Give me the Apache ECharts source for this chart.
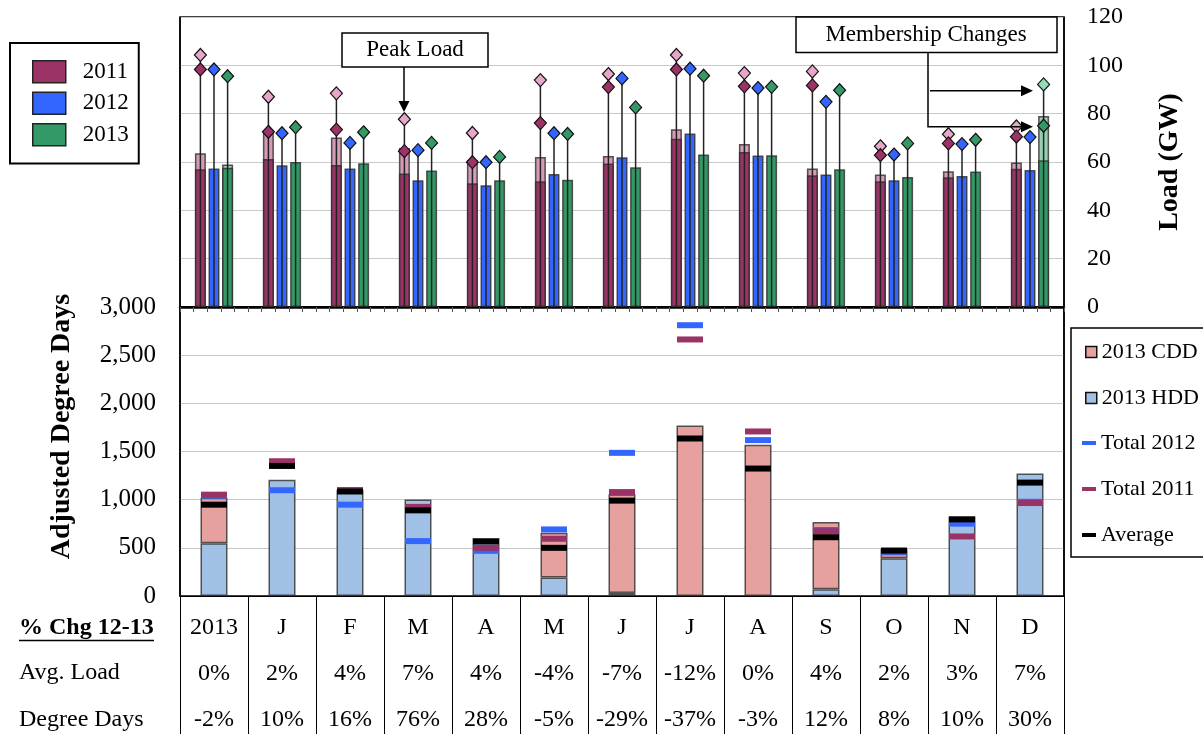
<!DOCTYPE html>
<html><head><meta charset="utf-8">
<script src="https://cdn.jsdelivr.net/npm/echarts@6/dist/echarts.min.js"></script>
<style>html,body{margin:0;padding:0;background:#fff}#c{width:1203px;height:734px}</style>
</head><body><div id="c"></div>
<script>
// ---- data ----
const columns = ['2013','J','F','M','A','M','J','J','A','S','O','N','D'];
const avgLoadChg = ['0%','2%','4%','7%','4%','-4%','-7%','-12%','0%','4%','2%','3%','7%'];
const degreeDayChg = ['-2%','10%','16%','76%','28%','-5%','-29%','-37%','-3%','12%','8%','10%','30%'];

// Load (GW) - top panel
const load2011    = [57.0, 61.2, 58.8, 55.2, 51.2, 52.0, 59.4, 69.6, 64.1, 54.5, 52.0, 53.7, 57.2];
const load2011Adj = [63.6, 72.9, 70.1, 65.8, 60.7, 62.1, 62.5, 73.6, 67.5, 57.3, 54.8, 56.2, 59.8];
const load2012    = [57.3, 58.7, 57.3, 52.5, 50.4, 55.0, 62.0, 71.8, 62.7, 54.8, 52.5, 54.2, 56.7];
const load2013    = [57.6, 60.0, 59.5, 56.5, 52.5, 52.7, 57.8, 63.1, 62.8, 57.0, 53.8, 56.1, 60.7];
const load2013Adj = [59.0, null, null, null, null, null, null, null, null, null, null, null, 79.0];
const peak2011    = [98.3, 72.5, 73.4, 64.5, 59.9, 76.1, 91.0, 98.3, 91.3, 91.7, 62.8, 67.7, 70.5];
const peak2011Adj = [104.3, 87.0, 88.4, 77.7, 72.0, 93.9, 96.4, 104.3, 96.8, 97.5, 66.5, 71.5, 74.7];
const peak2012    = [98.3, 71.9, 67.9, 64.9, 59.9, 71.9, 94.6, 98.6, 90.6, 84.9, 63.1, 67.4, 70.3];
const peak2013    = [95.5, 74.4, 72.3, 67.9, 62.1, 71.6, 82.6, 95.7, 91.1, 89.7, 67.7, 69.2, 75.0];
const peak2013Adj = [null, null, null, null, null, null, null, null, null, null, null, null, 92.1];

// Adjusted degree days - bottom panel
const hdd2013   = [548, 1208, 1100, 1003, 600, 191, 31, null, null, 69, 392, 826, 1271];
const cdd2013   = [473, null, null, null, null, 465, 1024, 1771, 1569, 698, 98, null, null];
const total2012 = [1042, 1098, 948, 570, 469, 691, 1486, 2811, 1618, 685, 454, 751, 978];
const total2011 = [1052, 1399, 1100, 925, 500, 594, 1079, 2663, 1708, 673, 465, 618, 965];
const average   = [948, 1350, 1085, 889, 566, 500, 990, 1635, 1323, 610, 472, 795, 1177];

// ---- helpers ----
const SLOTS = 5;
const slotCats = Array.from({length: columns.length * SLOTS}, (_, i) => String(i));
function toSlots(arr, off) {
  const out = [];
  arr.forEach((v, i) => { if (v != null) out.push([i * SLOTS + off, v]); });
  return out;
}
function maxOf(a, b) { return a.map((v, i) => Math.max(v == null ? -Infinity : v, b[i] == null ? -Infinity : b[i])); }

const FONT = "'Liberation Serif','Times New Roman',serif";
const C11 = '#9B3366', C11L = '#D49AB6', C12 = '#3366FF', C13 = '#339966', C13L = '#9BCDB2';
const barBorder = {borderColor: 'rgba(45,45,45,0.8)', borderWidth: 1.5};

function topBar(name, arr, off, color, z) {
  return {name, type: 'bar', xAxisIndex: 0, yAxisIndex: 0, data: toSlots(arr, off),
    barWidth: 11, barGap: '-100%', z, itemStyle: Object.assign({color}, barBorder)};
}
function diamond(name, arr, off, color) {
  return {name, type: 'scatter', xAxisIndex: 0, yAxisIndex: 0, data: toSlots(arr, off),
    symbol: 'diamond', symbolSize: [12, 13], z: 5,
    itemStyle: {color, borderColor: '#111', borderWidth: 1.2, opacity: 1}};
}
const whiskers = [].concat(
  toSlots(maxOf(peak2011, peak2011Adj), 1),
  toSlots(peak2012, 2),
  toSlots(maxOf(peak2013, peak2013Adj), 3)
);

function marker(name, arr, color) {
  return {name, type: 'scatter', xAxisIndex: 1, yAxisIndex: 1, data: arr,
    symbol: 'rect', symbolSize: [26, 6], z: 5, itemStyle: {color, opacity: 1}};
}

const chart = echarts.init(document.getElementById('c'), null, {renderer: 'canvas'});
chart.setOption({
  animation: false,
  backgroundColor: '#fff',
  textStyle: {fontFamily: FONT},
  grid: [
    {left: 180, right: 139, top: 17, height: 290, show: true, borderColor: '#000', borderWidth: 1.5},
    {left: 180, right: 139, top: 307, height: 289, show: true, borderColor: '#000', borderWidth: 1.5}
  ],
  xAxis: [
    {type: 'category', gridIndex: 0, data: slotCats, boundaryGap: true,
      axisLine: {lineStyle: {color: '#000', width: 2.5}},
      axisTick: {show: true, interval: 0, length: 5, lineStyle: {color: '#555', width: 1}},
      axisLabel: {show: false},
      splitLine: {show: true, interval: (i) => i === SLOTS, lineStyle: {color: '#000', width: 1.5}}},
    {type: 'category', gridIndex: 1, data: columns, boundaryGap: true,
      axisLine: {lineStyle: {color: '#000', width: 1}},
      axisTick: {show: true, interval: 0, length: 138, lineStyle: {color: '#000', width: 1}},
      axisLabel: {interval: 0, margin: 9,
        formatter: (v, i) => `{m|${columns[i]}}\n{v|${avgLoadChg[i]}}\n{v|${degreeDayChg[i]}}`,
        rich: {
          m: {fontFamily: FONT, fontSize: 24, lineHeight: 46, color: '#000'},
          v: {fontFamily: FONT, fontSize: 24, lineHeight: 46, color: '#000'}
        }},
      splitLine: {show: true, interval: (i) => i === 1, lineStyle: {color: '#000', width: 1.5}}}
  ],
  yAxis: [
    {type: 'value', gridIndex: 0, position: 'right', min: 0, max: 120, interval: 20,
      axisLine: {show: false}, axisTick: {show: false},
      axisLabel: {fontFamily: FONT, fontSize: 24, color: '#000', align: 'left', margin: 23},
      splitLine: {lineStyle: {color: '#c8c8c8', width: 1}},
      name: 'Load (GW)', nameLocation: 'middle', nameRotate: 90, nameGap: 92,
      nameTextStyle: {fontFamily: FONT, fontSize: 28, fontWeight: 'bold', color: '#000'}},
    {type: 'value', gridIndex: 1, position: 'left', min: 0, max: 3000, interval: 500,
      axisLine: {show: false}, axisTick: {show: false},
      axisLabel: {fontFamily: FONT, fontSize: 25, color: '#000', margin: 24,
        formatter: (v) => v.toLocaleString('en-US')},
      splitLine: {lineStyle: {color: '#c8c8c8', width: 1}},
      name: 'Adjusted Degree Days', nameLocation: 'middle', nameRotate: 90, nameGap: 104,
      nameTextStyle: {fontFamily: FONT, fontSize: 28, fontWeight: 'bold', color: '#000', padding: [0, 0, 0, 50]}}
  ],
  legend: [
    {data: ['2011', '2012', '2013'], orient: 'vertical', left: 10, top: 43,
      padding: [17, 10, 17, 22], itemWidth: 33, itemHeight: 22, itemGap: 8, icon: 'rect',
      borderColor: '#000', borderWidth: 2, selectedMode: false,
      itemStyle: {borderColor: '#222', borderWidth: 1.5},
      textStyle: {fontFamily: FONT, fontSize: 23, color: '#000', padding: [0, 0, 0, 12]}},
    {data: ['2013 CDD', '2013 HDD'], orient: 'vertical', left: 1085, top: 341,
      padding: 0, itemWidth: 11, itemHeight: 11, itemGap: 24, icon: 'rect', selectedMode: false,
      itemStyle: {borderColor: '#111', borderWidth: 1.5},
      textStyle: {fontFamily: FONT, fontSize: 22, lineHeight: 22, color: '#000'}},
    {data: ['Total 2012', 'Total 2011', 'Average'], orient: 'vertical', left: 1082, top: 432,
      padding: 0, itemWidth: 14, itemHeight: 4, itemGap: 24, icon: 'rect', selectedMode: false,
      itemStyle: {borderWidth: 0, opacity: 1},
      textStyle: {fontFamily: FONT, fontSize: 22, lineHeight: 22, color: '#000'}}
  ],
  series: [
    topBar('2011 adj', load2011Adj, 1, C11L, 2),
    topBar('2011', load2011, 1, C11, 3),
    topBar('2012', load2012, 2, C12, 3),
    topBar('2013 adj', load2013Adj, 3, C13L, 2),
    topBar('2013', load2013, 3, C13, 3),
    {name: 'peak line', type: 'custom', xAxisIndex: 0, yAxisIndex: 0, data: whiskers, z: 4,
      encode: {x: 0, y: 1},
      renderItem: (params, api) => {
        const p0 = api.coord([api.value(0), 0]);
        const p1 = api.coord([api.value(0), api.value(1)]);
        return {type: 'line', shape: {x1: p0[0], y1: p0[1], x2: p1[0], y2: p1[1]},
          style: {stroke: '#222', lineWidth: 1.5}};
      }},
    diamond('2011 peak adj', peak2011Adj, 1, '#E8A6C8'),
    diamond('2011 peak', peak2011, 1, C11),
    diamond('2012 peak', peak2012, 2, C12),
    diamond('2013 peak adj', peak2013Adj, 3, '#92DDB5'),
    diamond('2013 peak', peak2013, 3, C13),

    {name: '2013 HDD', type: 'bar', xAxisIndex: 1, yAxisIndex: 1, stack: 'dd', data: hdd2013,
      barWidth: 27, z: 2, itemStyle: Object.assign({color: '#A0C0E6'}, barBorder)},
    {name: '2013 CDD', type: 'bar', xAxisIndex: 1, yAxisIndex: 1, stack: 'dd', data: cdd2013,
      barWidth: 27, z: 2, itemStyle: Object.assign({color: '#E6A19E'}, barBorder)},
    marker('Total 2012', total2012, '#3366FF'),
    marker('Total 2011', total2011, '#993366'),
    marker('Average', average, '#000000')
  ],
  graphic: [
    // right legend frame
    {type: 'rect', shape: {x: 1071, y: 328, width: 140, height: 229},
      style: {fill: 'none', stroke: '#000', lineWidth: 1.5}, z: 10},
    // Peak Load annotation
    {type: 'rect', shape: {x: 342, y: 33, width: 146, height: 34},
      style: {fill: '#fff', stroke: '#000', lineWidth: 1.5}, z: 10},
    {type: 'text', x: 415, y: 50, style: {text: 'Peak Load', font: `23px ${FONT}`, fill: '#000',
      align: 'center', verticalAlign: 'middle'}, z: 11},
    {type: 'line', shape: {x1: 404, y1: 67, x2: 404, y2: 102}, style: {stroke: '#000', lineWidth: 1.5}, z: 10},
    {type: 'polygon', shape: {points: [[398.5, 101], [409.5, 101], [404, 112]]}, style: {fill: '#000'}, z: 10},
    // Membership Changes annotation
    {type: 'rect', shape: {x: 796, y: 17, width: 261, height: 35.5},
      style: {fill: '#fff', stroke: '#000', lineWidth: 1.5}, z: 10},
    {type: 'text', x: 926, y: 35, style: {text: 'Membership Changes', font: `23px ${FONT}`, fill: '#000',
      align: 'center', verticalAlign: 'middle'}, z: 11},
    {type: 'polyline', shape: {points: [[928, 52.5], [928, 126.7], [1022, 126.7]]},
      style: {stroke: '#000', lineWidth: 1.5, fill: 'none'}, z: 10},
    {type: 'polygon', shape: {points: [[1021, 121.2], [1021, 132.2], [1033, 126.7]]}, style: {fill: '#000'}, z: 10},
    {type: 'line', shape: {x1: 930, y1: 90.7, x2: 1022, y2: 90.7}, style: {stroke: '#000', lineWidth: 1.5}, z: 10},
    {type: 'polygon', shape: {points: [[1021, 85.2], [1021, 96.2], [1033, 90.7]]}, style: {fill: '#000'}, z: 10},
    // table row labels
    {type: 'text', x: 19, y: 628, style: {text: '% Chg 12-13', font: `bold 24px ${FONT}`, fill: '#000',
      align: 'left', verticalAlign: 'middle'}},
    {type: 'line', shape: {x1: 19, y1: 640.5, x2: 154, y2: 640.5}, style: {stroke: '#000', lineWidth: 1.5}},
    {type: 'text', x: 19, y: 673, style: {text: 'Avg. Load', font: `24px ${FONT}`, fill: '#000',
      align: 'left', verticalAlign: 'middle'}},
    {type: 'text', x: 19, y: 720, style: {text: 'Degree Days', font: `24px ${FONT}`, fill: '#000',
      align: 'left', verticalAlign: 'middle'}}
  ]
});
</script>
</body></html>
